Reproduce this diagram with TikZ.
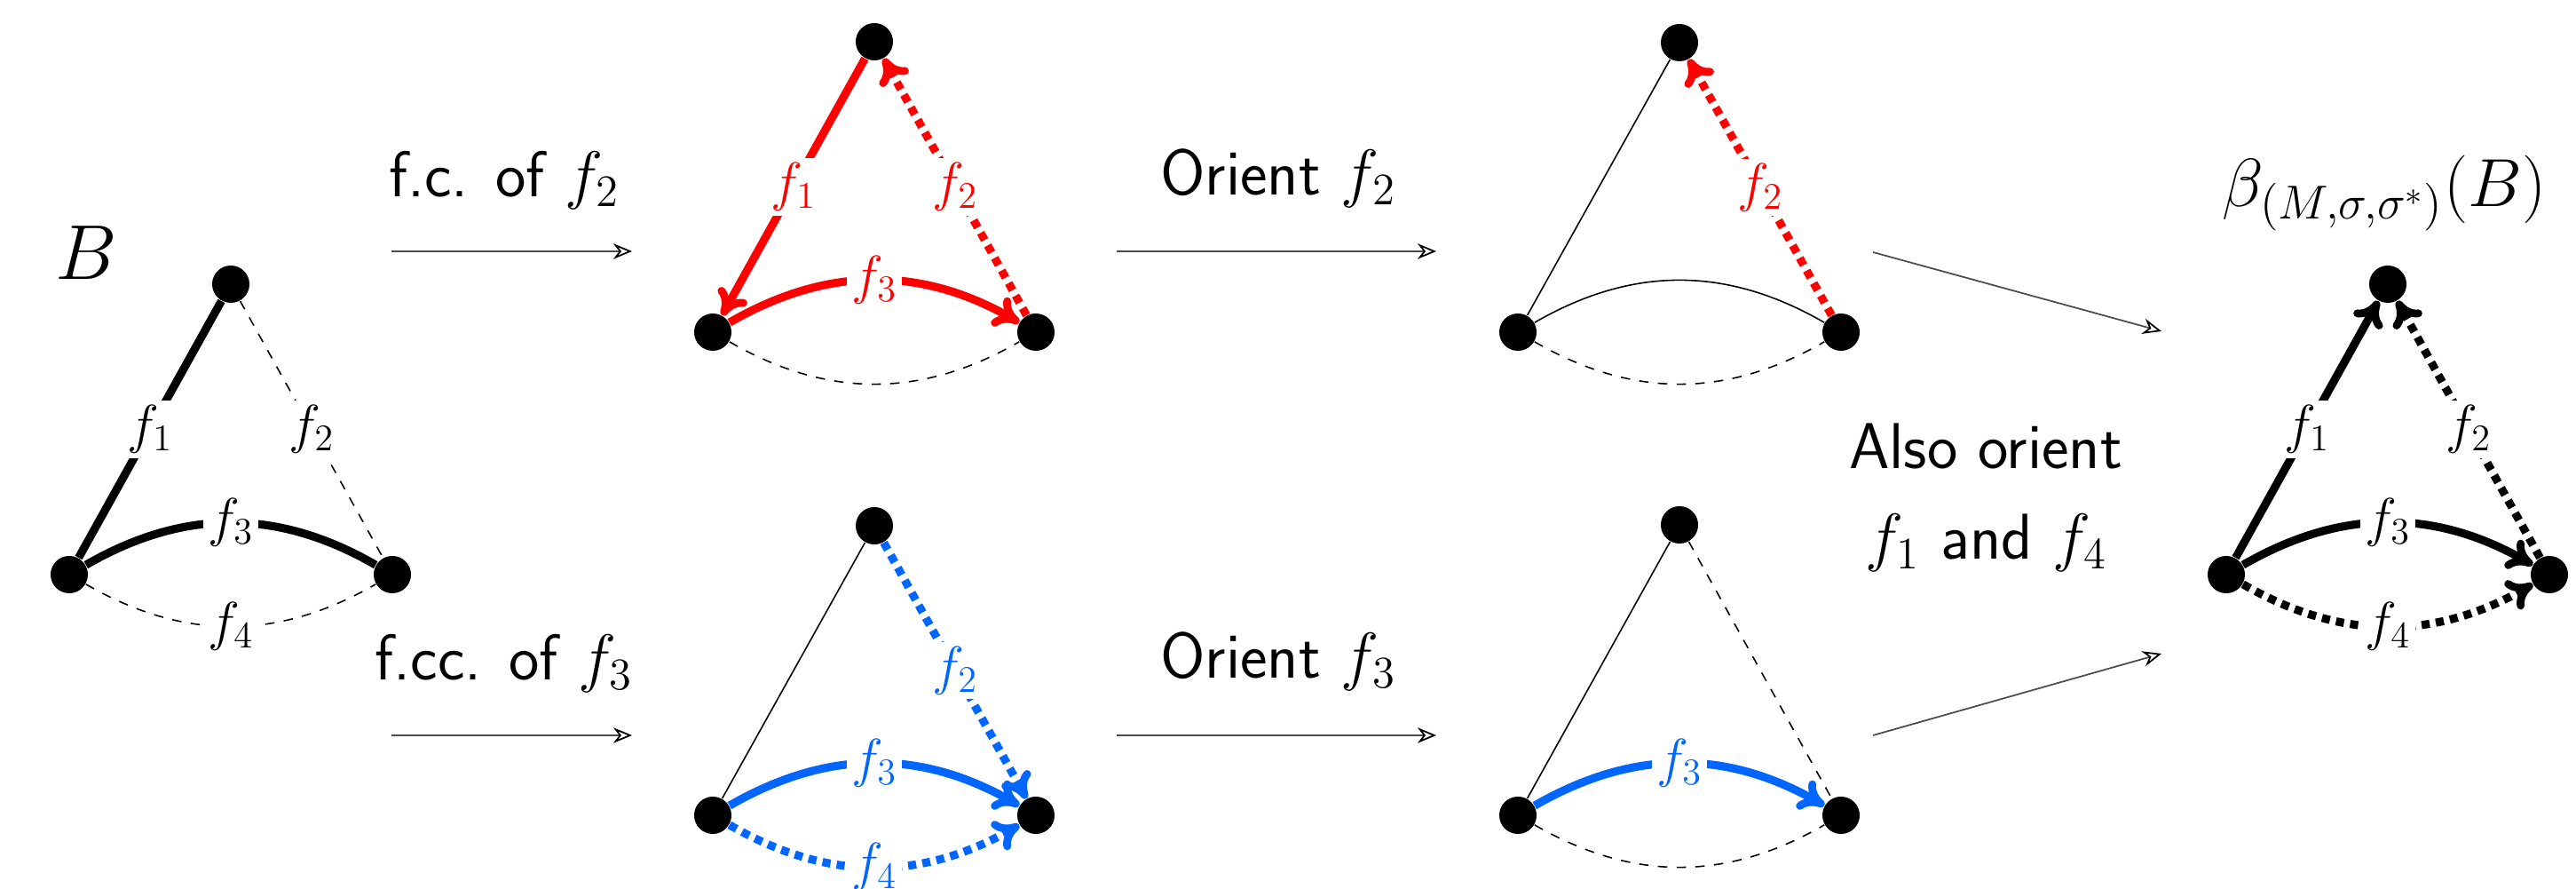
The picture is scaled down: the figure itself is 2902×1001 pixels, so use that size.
\documentclass[tikz,border=0pt]{standalone}
\usepackage{fix-cm}
\usetikzlibrary{arrows.meta}
\definecolor{myred}{RGB}{255,0,0}
\definecolor{myblue}{RGB}{0,102,255}
\begin{document}
\begin{tikzpicture}[x=0.01cm, y=-0.01cm,
  vtx/.style={circle, fill=black, inner sep=0pt, minimum size=0.42cm},
  thk/.style={line width=2.6pt},
  thn/.style={line width=0.45pt},
  dsh/.style={line width=0.45pt, dashed},
  dtt/.style={line width=2.6pt, dotted},
  hd/.style={-{Computer Modern Rightarrow[length=8pt,width=10.5pt,line width=2.5pt,round]}},
  lbl/.style={fill=white, inner sep=1.5pt, font=\LARGE},
  trans/.style={black!70, line width=0.5pt, -{Stealth[open,length=6pt,width=5pt,black]}},
  captxt/.style={font=\huge\sffamily, anchor=base},
  bigtxt/.style={font=\Huge, anchor=base},
]
\useasboundingbox (0,0) rectangle (2902,1001);

% ---------- graph B ----------
\node[vtx] (g0t) at (260,320) {};
\node[vtx] (g0l) at (78,647) {};
\node[vtx] (g0r) at (442,647) {};
\draw[thk] (g0l) -- node[lbl] {$f_1$} (g0t);
\draw[dsh] (g0t) -- node[lbl] {$f_2$} (g0r);
\draw[thk] (g0l) to[bend left=30] node[lbl] {$f_3$} (g0r);
\draw[dsh] (g0l) to[bend right=30] node[lbl] {$f_4$} (g0r);
\node[bigtxt] (lB) at (97,315) {$B$};

% ---------- red graph ----------
\node[vtx] (gat) at (985,47) {};
\node[vtx] (gal) at (803,374) {};
\node[vtx] (gar) at (1167,374) {};
\draw[thk, hd, myred] (gat) -- node[lbl, text=myred] {$f_1$} (gal);
\draw[dtt, hd, myred] (gar) -- node[lbl, text=myred] {$f_2$} (gat);
\draw[thk, hd, myred] (gal) to[bend left=30] node[lbl, text=myred] {$f_3$} (gar);
\draw[dsh] (gal) to[bend right=30] (gar);

% ---------- blue graph ----------
\node[vtx] (gbt) at (985,592) {};
\node[vtx] (gbl) at (803,918) {};
\node[vtx] (gbr) at (1167,918) {};
\draw[thn] (gbl) -- (gbt);
\draw[dtt, hd, myblue] (gbt) -- node[lbl, text=myblue] {$f_2$} (gbr);
\draw[thk, hd, myblue] (gbl) to[bend left=30] node[lbl, text=myblue] {$f_3$} (gbr);
\draw[dtt, hd, myblue] (gbl) to[bend right=30] node[lbl, text=myblue] {$f_4$} (gbr);

% ---------- oriented f2 ----------
\node[vtx] (gct) at (1892,48) {};
\node[vtx] (gcl) at (1710,374) {};
\node[vtx] (gcr) at (2074,374) {};
\draw[thn] (gcl) -- (gct);
\draw[dtt, hd, myred] (gcr) -- node[lbl, text=myred] {$f_2$} (gct);
\draw[thn] (gcl) to[bend left=30] (gcr);
\draw[dsh] (gcl) to[bend right=30] (gcr);

% ---------- oriented f3 ----------
\node[vtx] (gdt) at (1892,591) {};
\node[vtx] (gdl) at (1710,918) {};
\node[vtx] (gdr) at (2074,918) {};
\draw[thn] (gdl) -- (gdt);
\draw[dsh] (gdt) -- (gdr);
\draw[thk, hd, myblue] (gdl) to[bend left=30] node[lbl, text=myblue] {$f_3$} (gdr);
\draw[dsh] (gdl) to[bend right=30] (gdr);

% ---------- final ----------
\node[vtx] (get) at (2690,320) {};
\node[vtx] (gel) at (2508,647) {};
\node[vtx] (ger) at (2872,647) {};
\draw[thk, hd] (gel) -- node[lbl] {$f_1$} (get);
\draw[dtt, hd] (ger) -- node[lbl] {$f_2$} (get);
\draw[thk, hd] (gel) to[bend left=30] node[lbl] {$f_3$} (ger);
\draw[dtt, hd] (gel) to[bend right=30] node[lbl] {$f_4$} (ger);
\node[anchor=base, inner sep=0pt, font=\fontsize{21.8}{26}\selectfont] (lbeta) at (2686,233) {$\beta_{(M,\sigma,\sigma^*)}(B)$};

% ---------- transition arrows ----------
\coordinate (a1s) at (441,283); \coordinate (a1e) at (712,283);
\coordinate (a2s) at (441,828); \coordinate (a2e) at (712,828);
\coordinate (a3s) at (1258,283); \coordinate (a3e) at (1618,283);
\coordinate (a4s) at (1258,828); \coordinate (a4e) at (1618,828);
\coordinate (a5s) at (2110,284); \coordinate (a5e) at (2435,373);
\coordinate (a6s) at (2110,828); \coordinate (a6e) at (2435,736);
\draw[trans] (a1s) -- (a1e);
\draw[trans] (a2s) -- (a2e);
\draw[trans] (a3s) -- (a3e);
\draw[trans] (a4s) -- (a4e);
\draw[trans] (a5s) -- (a5e);
\draw[trans] (a6s) -- (a6e);

\node[captxt] (c1) at (568,222) {f.c. of $f_2$};
\node[captxt] (c2) at (568,766) {f.cc. of $f_3$};
\node[captxt] (c3) at (1440,220) {Orient $f_2$};
\node[captxt] (c4) at (1440,764) {Orient $f_3$};
\node[captxt] (c5) at (2237,528) {Also orient};
\node[captxt] (c6) at (2238,630) {$f_1$ and $f_4$};
\end{tikzpicture}
\end{document}
